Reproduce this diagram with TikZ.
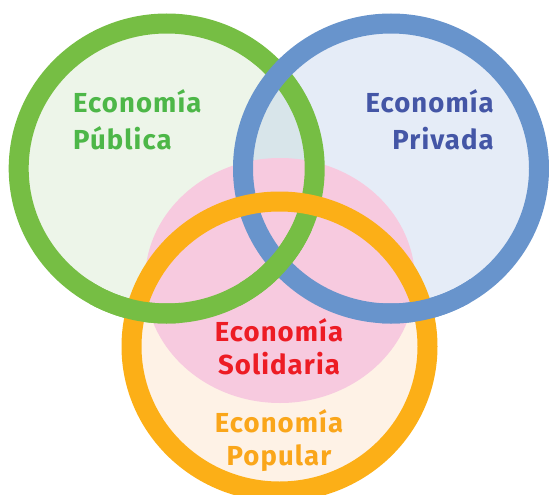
\documentclass[tikz,border=0pt]{standalone}
\usepackage{fontspec}
\setmainfont{Fira Sans}[LetterSpace=4]
\usepackage{xcolor}
\definecolor{pubring}{RGB}{118,190,68}
\definecolor{pubfill}{RGB}{237,245,233}
\definecolor{pubtext}{RGB}{77,183,72}
\definecolor{privring}{RGB}{104,148,204}
\definecolor{privfill}{RGB}{229,236,247}
\definecolor{privtext}{RGB}{68,86,166}
\definecolor{lensfill}{RGB}{216,229,234}
\definecolor{solfill}{RGB}{247,202,223}
\definecolor{soltext}{RGB}{237,28,36}
\definecolor{popring}{RGB}{252,175,23}
\definecolor{popfill}{RGB}{254,242,230}
\definecolor{poptext}{RGB}{250,166,26}
\tikzset{
  rad/.style={x radius=148, y radius=145},
  ring/.style={line width=20pt},
  econtext/.style={font=\bfseries\fontsize{27.5}{32}\selectfont, inner sep=0pt}
}

\begin{document}
\begin{tikzpicture}[x=1pt,y=-1pt]
    \useasboundingbox (0,0) rectangle (549,495);
    \coordinate (pub) at (166.7,168.5);
    \coordinate (priv) at (391,168.5);
    \coordinate (pop) at (279.5,346.5);
    \coordinate (sol) at (280,280.5);
    % fills
    \fill[pubfill] (pub) ellipse [rad];
    \fill[privfill] (priv) ellipse [rad];
    \begin{scope}
        \clip (pub) ellipse [rad];
        \fill[lensfill] (priv) ellipse [rad];
    \end{scope}
    \fill[popfill] (pop) ellipse [rad];
    \fill[solfill] (sol) ellipse [x radius=135, y radius=122.5];
    % rings
    \draw[ring,pubring] (pub) ellipse [rad];
    \draw[ring,privring] (priv) ellipse [rad];
    \draw[ring,popring] (pop) ellipse [rad];
    \begin{scope}
        \clip (90,270) rectangle (180,345);
        \draw[ring,pubring] (pub) ellipse [rad];
    \end{scope}
    \begin{scope}
        \clip (380,270) rectangle (470,345);
        \draw[ring,privring] (priv) ellipse [rad];
    \end{scope}
    \begin{scope}
        \clip (240,230) rectangle (320,320);
        \draw[ring,pubring] (pub) ellipse [rad];
    \end{scope}
    % texts
    \node[econtext,pubtext,anchor=base west] (pub1) at (73,113) {Economía};
    \node[econtext,pubtext,anchor=base west] (pub2) at (73,149) {Pública};
    \node[econtext,privtext,anchor=base east] (priv1) at (494,113) {Economía};
    \node[econtext,privtext,anchor=base east] (priv2) at (494,149) {Privada};
    \node[econtext,soltext,anchor=base] (sol1) at (279,341) {Economía};
    \node[econtext,soltext,anchor=base] (sol2) at (279,374) {Solidaria};
    \node[econtext,poptext,anchor=base] (pop1) at (279,432) {Economía};
    \node[econtext,poptext,anchor=base] (pop2) at (279,465) {Popular};
\end{tikzpicture}
\end{document}
